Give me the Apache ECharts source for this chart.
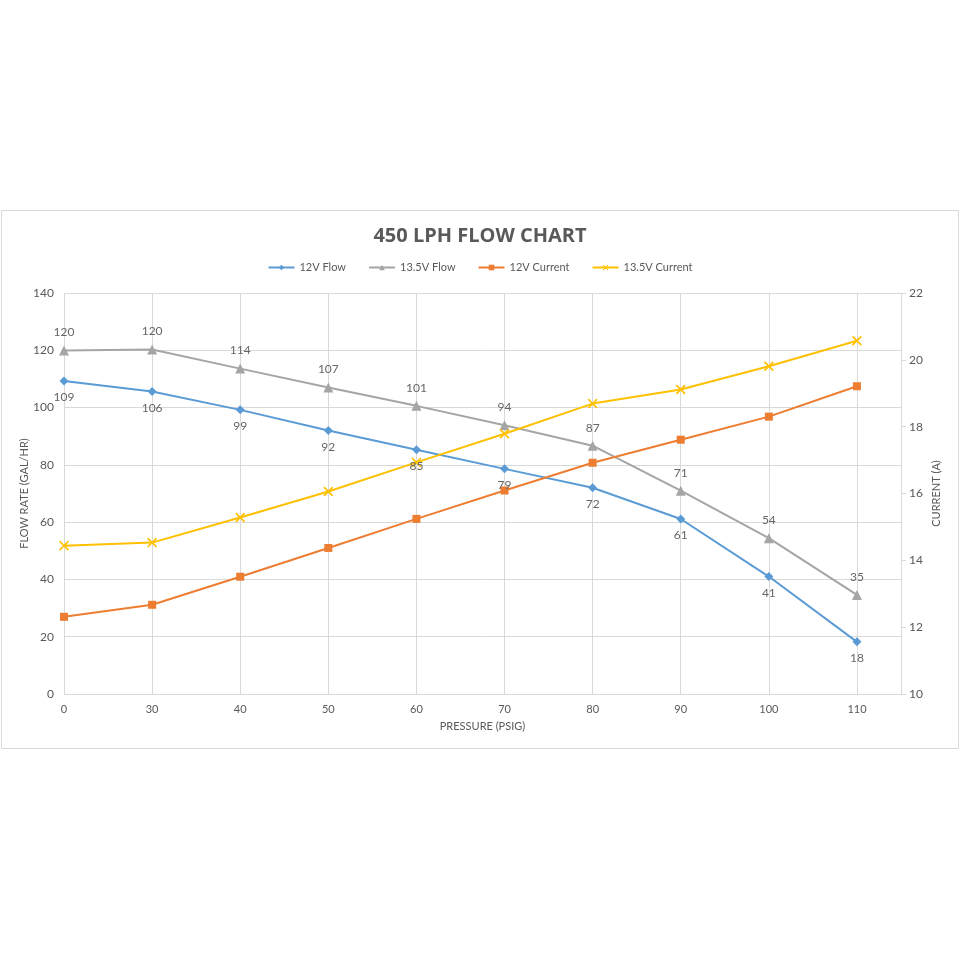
<!DOCTYPE html>
<html><head><meta charset="utf-8">
<script src="https://cdn.jsdelivr.net/npm/echarts@6/dist/echarts.min.js"></script>
<style>html,body{margin:0;padding:0;background:#fff}#c{width:960px;height:960px}</style>
</head><body><div id="c"></div>
<script>
var categories = ['0','30','40','50','60','70','80','90','100','110'];
var flow12 = [109.3, 105.6, 99.2, 92.0, 85.3, 78.6, 72.0, 61.1, 41.0, 18.2];
var flow135 = [119.9, 120.3, 113.6, 107.0, 100.6, 93.8, 86.7, 71.0, 54.4, 34.6];
var current12 = [12.31, 12.67, 13.51, 14.37, 15.24, 16.09, 16.92, 17.61, 18.30, 19.21];
var current135 = [14.44, 14.53, 15.28, 16.06, 16.93, 17.79, 18.69, 19.11, 19.81, 20.57];
var leftTicks = {min: 0, max: 140, interval: 20};
var rightTicks = {min: 10, max: 22, interval: 2};

function pairs(arr){ return arr.map(function(v,i){ return [i, v]; }); }
var txt = '#595959', grid = '#d9d9d9', FONT = 'Lato, "Open Sans", sans-serif';
var xShape = 'path://M0,1.2L1.2,0L5,3.8L8.8,0L10,1.2L6.2,5L10,8.8L8.8,10L5,6.2L1.2,10L0,8.8L3.8,5Z';

var chart = echarts.init(document.getElementById('c'));
chart.setOption({
  animation: false,
  backgroundColor: '#fff',
  textStyle: {fontFamily: FONT},
  graphic: [{type:'rect', shape:{x:1.5, y:210.5, width:957, height:538}, style:{fill:'none', stroke:'#d9d9d9', lineWidth:1}, z:-1}],
  title: {text: '450 LPH FLOW CHART', left: 'center', top: 221,
    textStyle: {color: txt, fontSize: 20, fontWeight: 'bold', fontFamily: '"Open Sans", sans-serif'}},
  legend: {top: 257, left: 'center', itemWidth: 26, itemHeight: 7, itemGap: 22,
    textStyle: {color: txt, fontSize: 11, fontFamily: FONT}},
  grid: {left: 64, right: 59, top: 293, bottom: 266, containLabel: false},
  xAxis: {type: 'value', min: 0, max: categories.length - 0.5, interval: 1,
    name: 'PRESSURE (PSIG)', nameLocation: 'middle', nameGap: 27,
    nameTextStyle: {color: txt, fontSize: 11},
    axisLine: {show: true, lineStyle: {color: grid}},
    axisTick: {show: false},
    splitLine: {show: true, lineStyle: {color: grid}},
    axisLabel: {color: txt, fontSize: 11, margin: 10, formatter: function(v){ return Number.isInteger(v) ? categories[v] : ''; }}},
  yAxis: [
    {type: 'value', min: leftTicks.min, max: leftTicks.max, interval: leftTicks.interval,
      name: 'FLOW RATE (GAL/HR)', nameLocation: 'middle', nameGap: 40, nameRotate: 90, nameMoveOverlap: false,
      nameTextStyle: {color: txt, fontSize: 11, verticalAlign: 'middle'},
      axisLine: {show: false}, axisTick: {show: false},
      splitLine: {show: true, lineStyle: {color: grid}},
      axisLabel: {color: txt, fontSize: 12, margin: 10}},
    {type: 'value', position: 'right', min: rightTicks.min, max: rightTicks.max, interval: rightTicks.interval,
      name: 'CURRENT (A)', nameLocation: 'middle', nameGap: 35, nameRotate: 90, nameMoveOverlap: false,
      nameTextStyle: {color: txt, fontSize: 11, verticalAlign: 'middle'},
      axisLine: {show: true, lineStyle: {color: grid}},
      axisTick: {show: true, length: 5, lineStyle: {color: grid}},
      splitLine: {show: false},
      axisLabel: {color: txt, fontSize: 12, margin: 8}}
  ],
  series: [
    {name: '12V Flow', type: 'line', yAxisIndex: 0, data: pairs(flow12),
      symbol: 'diamond', symbolSize: 9, lineStyle: {width: 2, color: '#5B9BD5'},
      itemStyle: {color: '#5B9BD5'},
      label: {show: true, position: 'bottom', distance: 6, color: '#666', fontSize: 12,
        formatter: function(p){ return Math.round(p.value[1]); }}},
    {name: '13.5V Flow', type: 'line', yAxisIndex: 0, data: pairs(flow135),
      symbol: 'triangle', symbolSize: 10, lineStyle: {width: 2, color: '#A5A5A5'},
      itemStyle: {color: '#A5A5A5'},
      label: {show: true, position: 'top', distance: 7, color: '#666', fontSize: 12,
        formatter: function(p){ return Math.round(p.value[1]); }}},
    {name: '12V Current', type: 'line', yAxisIndex: 1, data: pairs(current12),
      symbol: 'rect', symbolSize: 8, lineStyle: {width: 2, color: '#ED7D31'},
      itemStyle: {color: '#ED7D31'}},
    {name: '13.5V Current', type: 'line', yAxisIndex: 1, data: pairs(current135),
      symbol: xShape, symbolSize: 10, lineStyle: {width: 2, color: '#FFC000'},
      itemStyle: {color: '#FFC000'}}
  ]
});
</script></body></html>
